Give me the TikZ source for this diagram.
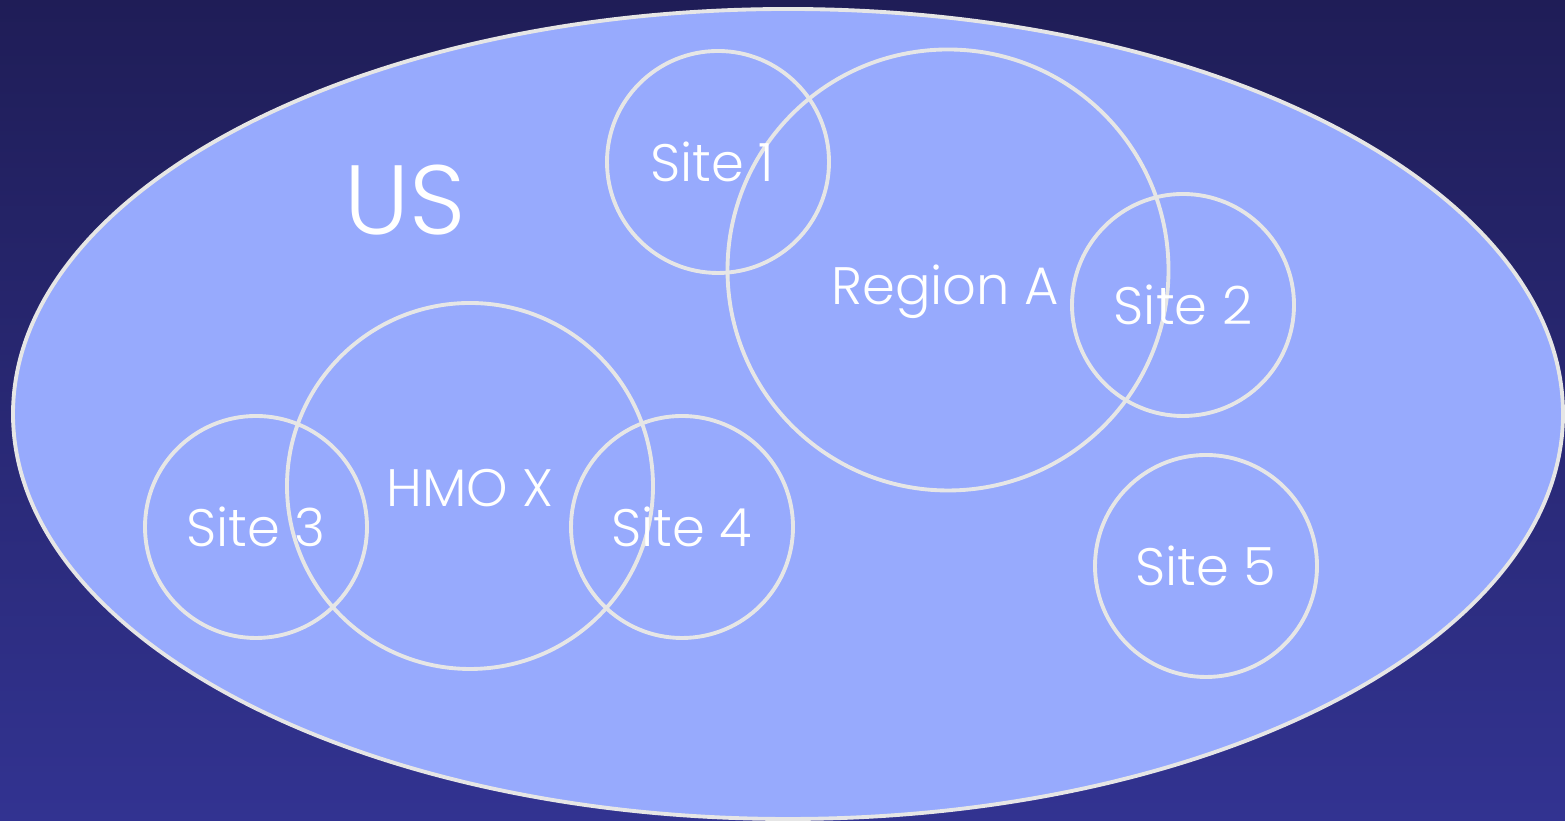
\documentclass[tikz,border=0pt]{standalone}
\usepackage{fontspec}
\setmainfont{Poppins}[UprightFont=* Light]
\usepackage{tikz}
\usetikzlibrary{shapes.geometric}
\definecolor{bgtop}{HTML}{1F1D57}
\definecolor{bgbottom}{HTML}{323391}
\definecolor{usfill}{HTML}{97AAFD}
\definecolor{rim}{HTML}{E6E6E6}
\tikzset{
  zone/.style={circle, draw=rim, line width=1.1pt, text=white, font=\fontsize{15}{17}\selectfont, inner sep=0pt},
  site/.style={zone, minimum size=2.22cm}
}

\begin{document}
\begin{tikzpicture}
\shade[top color=bgtop, bottom color=bgbottom] (0,0) rectangle (15.65,8.21);
\useasboundingbox (0,0) rectangle (15.65,8.21);
\node[ellipse, draw=rim, fill=usfill, line width=1.1pt, minimum width=15.5cm, minimum height=8.1cm, inner sep=0pt] (US) at (7.88,4.07) {};
\node[text=white, font=\fontsize{28}{32}\selectfont] (USlabel) at (4.05,6.21) {US};
\node[zone, minimum size=4.41cm] (regionA) at (9.48,5.51) {};
\node[text=white, font=\fontsize{15}{17}\selectfont] (regionAlabel) at (9.45,5.29) {Region A};
\node[zone, minimum size=3.66cm] (hmoX) at (4.70,3.35) {};
\node[text=white, font=\fontsize{15}{17}\selectfont] (hmoXlabel) at (4.70,3.33) {HMO X};
\node[site] (site1) at (7.18,6.59) {\hspace{-0.12cm}Site 1};
\node[site] (site2) at (11.83,5.16) {Site 2};
\node[site] (site3) at (2.56,2.94) {Site 3};
\node[site] (site4) at (6.82,2.94) {Site 4};
\node[site] (site5) at (12.06,2.55) {Site 5};
\end{tikzpicture}
\end{document}
